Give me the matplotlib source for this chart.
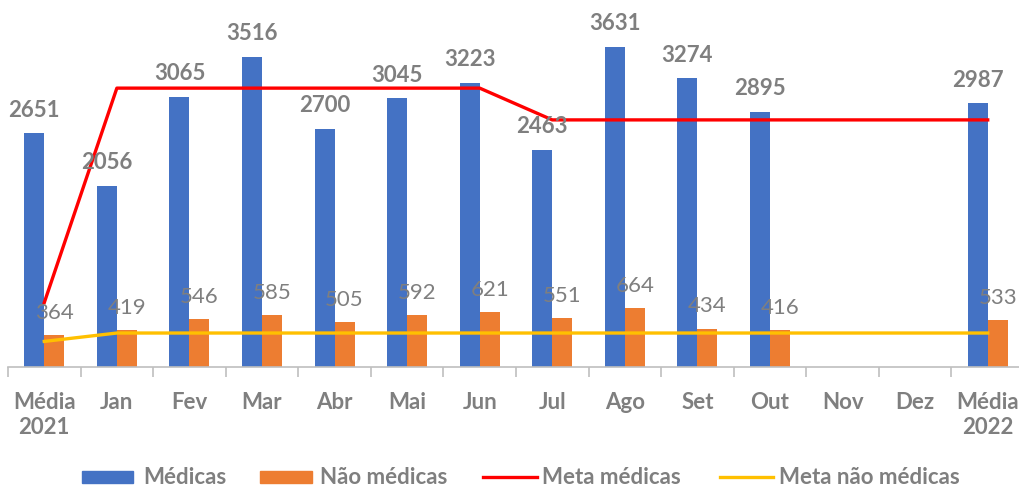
import matplotlib
matplotlib.use("Agg")
import matplotlib.pyplot as plt
import numpy as np
from matplotlib.patches import Rectangle
from matplotlib.lines import Line2D

categories = ["Média\n2021", "Jan", "Fev", "Mar", "Abr", "Mai", "Jun", "Jul",
              "Ago", "Set", "Out", "Nov", "Dez", "Média\n2022"]
medicas = [2651, 2056, 3065, 3516, 2700, 3045, 3223, 2463, 3631, 3274, 2895, None, None, 2987]
nao_medicas = [364, 419, 546, 585, 505, 592, 621, 551, 664, 434, 416, None, None, 533]
meta_medicas = [730, 3160, 3160, 3160, 3160, 3160, 3160, 2800, 2800, 2800, 2800, 2800, 2800, 2800]
meta_nao_medicas = [290, 385, 385, 385, 385, 385, 385, 385, 385, 385, 385, 385, 385, 385]
legend_labels = ["Médicas", "Não médicas", "Meta médicas", "Meta não médicas"]

plt.rcParams['font.family'] = ['Lato', 'DejaVu Sans']
gray = "#7F7F7F"
blue = "#4472C4"
orange = "#ED7D31"
red = "#FF0000"
yellow = "#FFC000"

W, H = 1019, 489
fig = plt.figure(figsize=(W/100, H/100), dpi=100)
ax = fig.add_axes([8/W, 1 - 368/H, 1016/W, 353/H])

x = np.arange(len(categories))
w = 0.275
for i in range(len(categories)):
    if medicas[i] is not None:
        ax.bar(x[i] - w/2, medicas[i], w, color=blue, zorder=2)
        ax.text(x[i] - w/2, medicas[i] + 150, f"{medicas[i]}", ha="center", va="bottom",
                fontsize=16, fontweight="bold", color=gray, zorder=5)
    if nao_medicas[i] is not None:
        ax.bar(x[i] + w/2, nao_medicas[i], w, color=orange, zorder=2)
        ax.text(x[i] + w/2, nao_medicas[i] + 150, f"{nao_medicas[i]}", ha="center", va="bottom",
                fontsize=16, color=gray, zorder=5)

ax.plot(x, meta_medicas, color=red, lw=2.4, zorder=3)
ax.plot(x, meta_nao_medicas, color=yellow, lw=2.4, zorder=3)

ax.set_xlim(-0.5, len(categories) - 0.5)
ax.set_ylim(0, 4000)
ax.set_yticks([])
for s in ["top", "right", "left"]:
    ax.spines[s].set_visible(False)
ax.spines["bottom"].set_color("#BFBFBF")
ax.spines["bottom"].set_linewidth(1.2)

ax.set_xticks(x)
ax.set_xticklabels(categories, fontsize=16, fontweight="bold", color=gray, linespacing=1.25)
ax.tick_params(axis="x", length=0, pad=17)
ax.set_xticks(np.arange(-0.5, len(categories), 1), minor=True)
ax.tick_params(axis="x", which="minor", length=7, color="#BFBFBF", width=1.2)

# manual legend (pixel positions converted to figure fractions)
ly = 1 - 478/H
fig.patches.append(Rectangle((82/W, 1 - 484/H), 51/W, 12/H, color=blue, transform=fig.transFigure, figure=fig))
fig.patches.append(Rectangle((260/W, 1 - 484/H), 52/W, 12/H, color=orange, transform=fig.transFigure, figure=fig))
fig.lines.append(Line2D([483/W, 537/W], [ly, ly], color=red, lw=2.4, transform=fig.transFigure, figure=fig))
fig.lines.append(Line2D([720/W, 773/W], [ly, ly], color=yellow, lw=2.4, transform=fig.transFigure, figure=fig))
for xt, lab in zip([143, 320, 542, 779], legend_labels):
    fig.text(xt/W, ly, lab, ha="left", va="center", fontsize=16, fontweight="bold", color=gray)

fig.savefig("out.png", dpi=100)
